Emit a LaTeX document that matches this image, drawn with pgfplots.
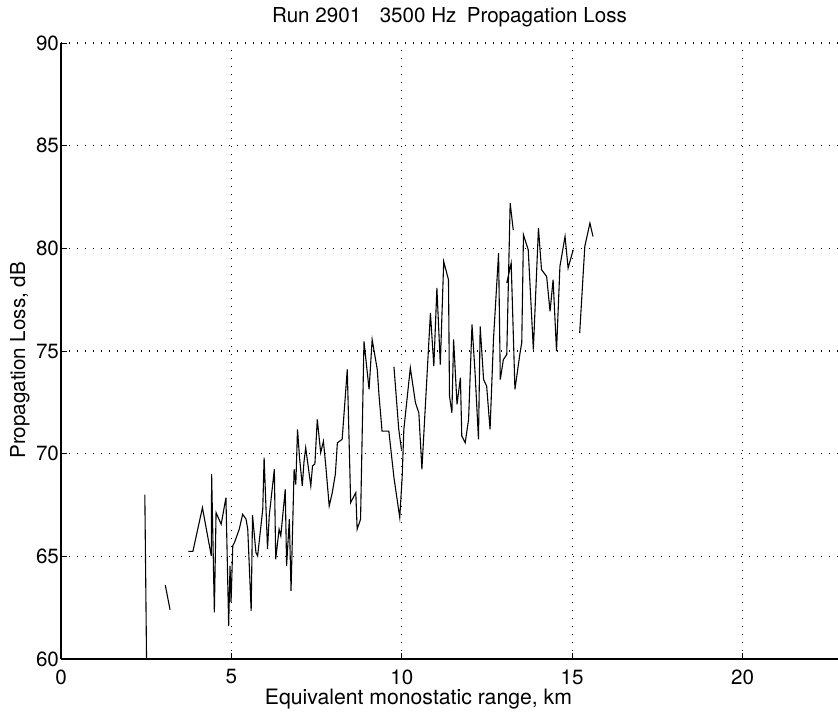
\documentclass[border=0pt]{standalone}
\usepackage{fontspec}
\setmainfont{TeX Gyre Heros}
\usepackage{pgfplots}
\pgfplotsset{compat=1.18}

\pgfplotstableread{
x y
2.46 68.0
2.51 60.0
nan nan
3.06 63.6
3.20 62.4
nan nan
3.74 65.24
3.87 65.24
4.15 67.37
4.41 65.02
4.42 69.00
4.50 62.27
4.55 67.13
4.70 66.56
4.84 67.86
4.92 61.62
4.96 64.54
4.99 62.76
5.04 65.51
5.09 65.67
5.23 66.32
5.33 67.05
5.43 66.81
5.48 66.32
5.58 62.35
5.62 67.00
5.72 65.19
5.77 65.02
5.92 67.29
5.96 69.81
6.06 65.35
6.11 66.97
6.26 69.24
6.30 64.86
6.40 66.32
6.45 66.00
6.58 68.26
6.62 64.54
6.70 66.81
6.75 63.32
6.84 69.24
6.89 68.50
6.94 71.18
7.00 69.80
7.08 68.43
7.13 69.60
7.18 70.29
7.33 68.43
7.38 69.40
7.45 69.50
7.52 71.67
7.62 70.05
7.70 70.60
7.77 69.40
7.87 67.45
7.96 68.10
8.05 69.00
8.11 70.53
8.25 70.70
8.40 74.10
8.50 67.62
8.65 68.10
8.69 66.32
8.79 66.81
8.89 75.47
9.04 73.13
9.13 75.56
9.28 74.10
9.33 72.88
9.42 71.10
9.62 71.10
9.77 68.83
9.94 66.89
10.01 68.83
10.06 71.18
10.25 74.18
10.40 72.48
10.50 71.99
10.59 69.24
10.84 76.85
10.94 74.26
11.03 78.07
11.13 74.34
11.23 79.36
11.37 78.47
11.40 72.80
11.47 71.99
11.52 75.56
11.62 72.40
11.72 73.70
11.76 70.86
11.86 70.53
11.96 71.67
12.06 76.29
12.15 73.94
12.25 70.70
12.30 76.20
12.40 73.61
12.49 73.29
12.59 71.18
12.69 75.56
12.84 79.77
12.89 73.61
12.98 74.58
13.08 74.83
13.18 82.20
13.27 80.90
nan nan
13.08 78.31
13.21 79.28
13.32 73.13
13.47 74.91
13.52 75.40
13.57 80.66
13.71 79.93
13.86 75.07
14.01 80.98
14.10 78.96
14.25 78.63
14.35 76.93
14.44 78.47
14.54 74.99
14.64 79.12
14.79 80.58
14.88 79.04
15.03 79.93
nan nan
15.22 75.88
15.37 80.09
15.52 81.23
15.61 80.58
nan nan
9.77 74.23
9.91 71.20
9.99 70.20
}\datatable

\begin{document}
\begin{tikzpicture}
\begin{axis}[
  name=ax,
  scale only axis,
  width=388.5pt, height=308pt,
  xmin=0, xmax=22.8, ymin=60, ymax=90,
  axis lines=left,
  axis line style={-, line width=0.6pt},
  xtick={0,5,10,15,20},
  ytick={60,65,70,75,80,85,90},
  tick align=inside,
  major tick length=3pt,
  tick style={black, line width=0.5pt},
  grid=major,
  grid style={black, line width=0.6pt, dash pattern=on 0.7pt off 3.3pt},
  /pgf/number format/assume math mode=true,
  tick label style={font=\fontsize{10.3}{12}\selectfont},
  xticklabel style={yshift=-1.8pt},
  yticklabel style={xshift=2.5pt},
  title={Run 2901\hspace{0.9em}3500 Hz\hspace{0.5em}Propagation Loss},
  title style={font=\fontsize{10.3}{12}\selectfont, at={(axis description cs:0.5,1)}, anchor=base, yshift=4.5pt},
  xlabel={Equivalent monostatic range, km},
  xlabel style={font=\fontsize{10.6}{12}\selectfont, at={(axis description cs:0.46,0)}, anchor=base, yshift=-22.5pt},
  ylabel={Propagation Loss, dB},
  ylabel style={font=\fontsize{10.3}{12}\selectfont, at={(axis description cs:-0.0463,0.485)}, anchor=base},
  unbounded coords=jump,
]
\addplot[black, line width=0.55pt, mark=none] table[x=x, y=y] {\datatable};
\end{axis}
\pgfresetboundingbox
\path ([xshift=-30.5pt,yshift=-27pt]ax.south west) rectangle ([yshift=21.5pt]ax.north east);
\end{tikzpicture}
\end{document}
